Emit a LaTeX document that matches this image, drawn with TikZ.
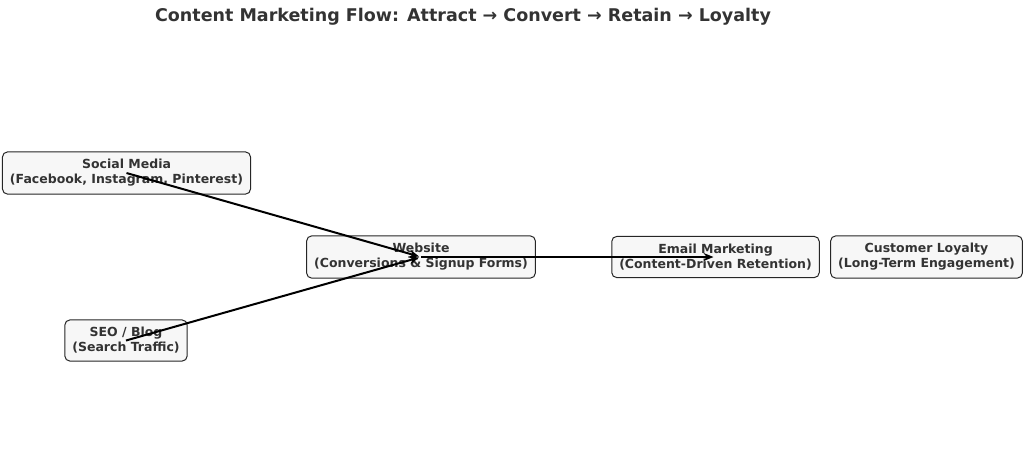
\documentclass[tikz,border=0pt]{standalone}
\usepackage{fontspec}
\setmainfont{DejaVu Sans}
\usetikzlibrary{arrows.meta}
\definecolor{txt}{HTML}{333333}
\definecolor{boxfill}{HTML}{F7F7F7}
\tikzset{
  stagebox/.style={draw=black!85, fill=boxfill, rounded corners=5pt, line width=1pt,
    align=center, inner xsep=7.5pt, inner ysep=7.5pt, text=txt,
    font=\bfseries\fontsize{12.5}{15}\selectfont},
  flow/.style={-{Stealth[length=10pt,width=8pt]}, line width=2pt, shorten >=2pt}
}
\begin{document}
\begin{tikzpicture}[x=1pt,y=-1pt]
\useasboundingbox (0,0) rectangle (1024,475);
\node[text=txt, font=\bfseries\fontsize{17.5}{20}\selectfont] (title) at (463,17) {Content Marketing Flow: Attract → Convert → Retain → Loyalty};
\node[stagebox] (social) at (126.5,173) {Social Media\\(Facebook, Instagram, Pinterest)};
\node[stagebox] (seo) at (126,340.5) {SEO / Blog\\(Search Traffic)};
\node[stagebox] (web) at (421,257) {Website\\(Conversions \& Signup Forms)};
\node[stagebox] (email) at (715.5,257) {Email Marketing\\(Content-Driven Retention)};
\node[stagebox] (loyal) at (926.5,257) {Customer Loyalty\\(Long-Term Engagement)};
\draw[flow] (social.center) -- (web.center);
\draw[flow] (seo.center) -- (web.center);
\draw[flow] (web.center) -- (email.center);
\end{tikzpicture}
\end{document}
